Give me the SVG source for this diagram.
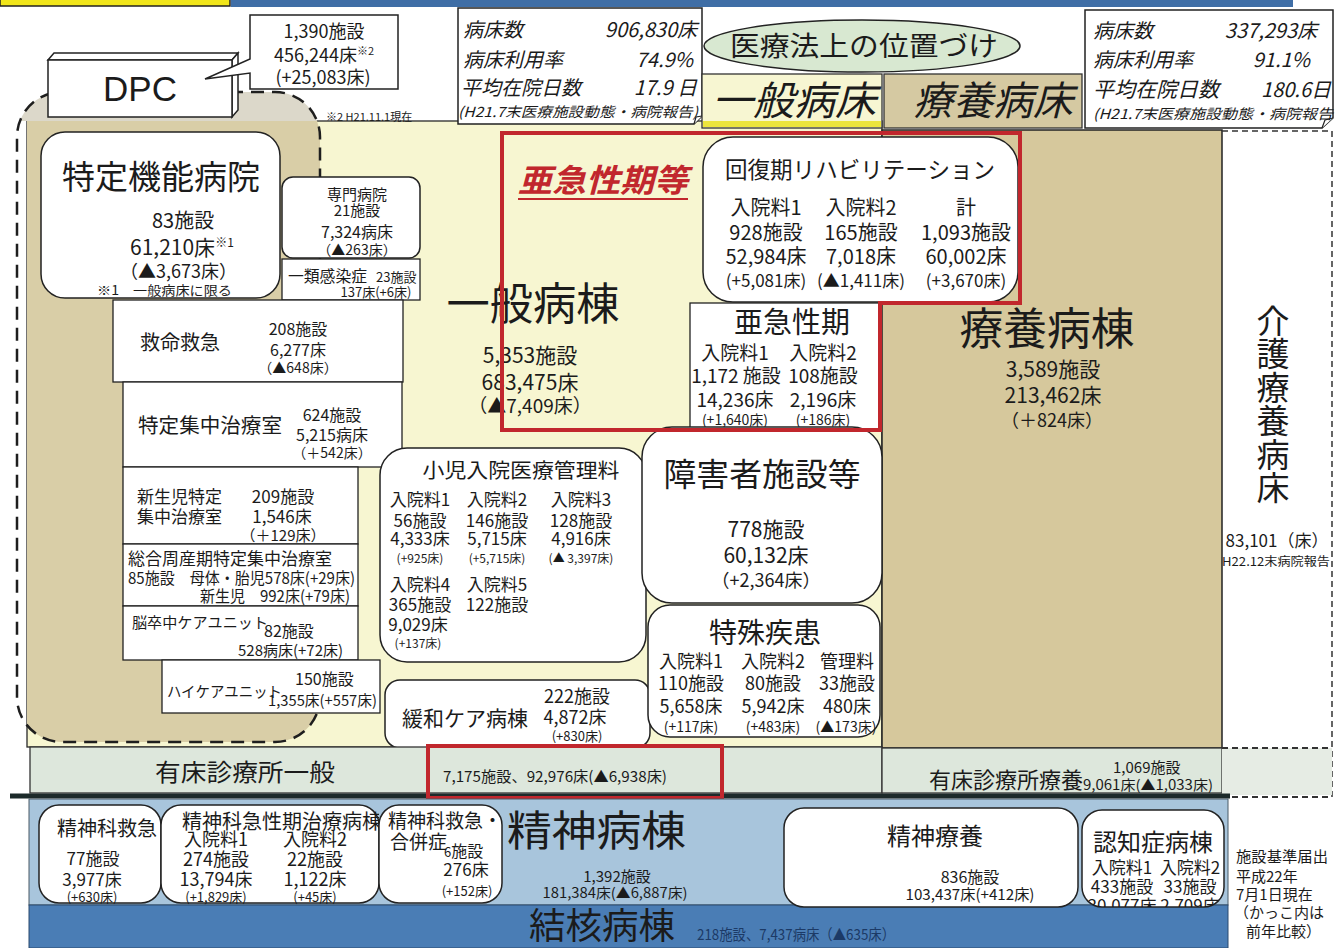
<svg xmlns="http://www.w3.org/2000/svg" width="1341" height="948" viewBox="0 0 1341 948">
<defs>
<style>
.j{font-family:"Noto Sans CJK JP","Noto Sans CJK SC",sans-serif;fill:#1b1b1b}
.m{text-anchor:middle}
.e{text-anchor:end}
.i{font-style:italic}
.box{fill:#fff;stroke:#222;stroke-width:1.5}
.sq{fill:#fff;stroke:#222;stroke-width:1.3}
.red{fill:none;stroke:#c1272d;stroke-width:4}
</style>
<clipPath id="cMain"><rect x="27" y="121" width="855" height="626"/></clipPath>
<clipPath id="cTop"><rect x="0" y="0" width="420" height="121"/></clipPath>
<clipPath id="cNin"><rect x="1082" y="810" width="142" height="97" rx="20"/></clipPath>
<clipPath id="cKyu"><rect x="161" y="805" width="218" height="98"/></clipPath>
<path id="dpcShape" d="M62,92 H275 A45,45 0 0 1 320,137 V697 A45,45 0 0 1 275,742 H62 A45,45 0 0 1 17,697 V137 A45,45 0 0 1 62,92 Z"/>
</defs>
<rect width="1341" height="948" fill="#fff"/>

<g id="top-strips">
<rect x="0" y="-2" width="230" height="8" fill="#f1e61a" stroke="#222" stroke-width="1.5"/>
<rect x="231" y="0" width="1062" height="7" fill="#3f6ea6"/>
</g>

<!-- background regions -->
<g id="region-ippan-byoto">
<rect x="27" y="121" width="855" height="626" fill="#f7f6d1" stroke="#2a2a2a" stroke-width="1.3"/>
</g>
<g id="region-ryoyo-byoto">
<rect x="882" y="130" width="340" height="618" fill="#d6c89c" stroke="#222" stroke-width="1.5"/>
</g>
<g id="region-kaigo">
<path d="M1222,131 H1332 V798" fill="none" stroke="#333" stroke-width="1.5" stroke-dasharray="6 4"/>
</g>
<g id="region-dpc">
<use href="#dpcShape" fill="#d9cea7" clip-path="url(#cMain)"/>
<use href="#dpcShape" fill="#dcd8ca" clip-path="url(#cTop)"/>
<use href="#dpcShape" fill="none" stroke="#1e1e1e" stroke-width="2.5" stroke-dasharray="13 8"/>
</g>

<!-- header stats -->
<g id="stats-ippan">
<path d="M458,8 H702 V116 L694,124 H458 Z" class="box"/>
<path d="M694,124 L696,117 L702,116" fill="#fff" stroke="#222" stroke-width="1.2"/>
<text class="j i" x="463" y="37" font-size="20">病床数</text>
<text class="j i e" x="697" y="37" font-size="20">906,830床</text>
<text class="j i" x="463" y="67" font-size="20">病床利用率</text>
<text class="j i e" x="693" y="67" font-size="20">74.9%</text>
<text class="j i" x="461" y="95" font-size="20">平均在院日数</text>
<text class="j i e" x="697" y="95" font-size="20">17.9 日</text>
<text class="j i" x="458" y="117" font-size="14" textLength="240" lengthAdjust="spacingAndGlyphs">(H21.7末医療施設動態・病院報告)</text>
</g>

<g id="label-iryoho">
<ellipse cx="862" cy="46" rx="158" ry="26" fill="#d8e8d1" stroke="#222" stroke-width="1.5"/>
<text class="j m" x="864" y="56" font-size="27" textLength="268" lengthAdjust="spacingAndGlyphs">医療法上の位置づけ</text>
</g>

<g id="hdr-ippan-byosho">
<rect x="702" y="74" width="180" height="54" fill="#f7f6d2" stroke="#333" stroke-width="1.3"/>
<rect x="703" y="121" width="178" height="6" fill="#ece53e"/>
<text class="j i m" x="794" y="115" font-size="40" textLength="164" lengthAdjust="spacingAndGlyphs">一般病床</text>
</g>
<g id="hdr-ryoyo-byosho">
<rect x="884" y="74" width="198" height="54" fill="#d5c9a2" stroke="#333" stroke-width="1.3"/>
<text class="j i m" x="993" y="115" font-size="40" textLength="160" lengthAdjust="spacingAndGlyphs">療養病床</text>
</g>

<g id="stats-ryoyo">
<path d="M1085,10 H1333 V118 L1322,128 H1085 Z" class="box"/>
<path d="M1322,128 L1325,120 L1333,118" fill="#fff" stroke="#222" stroke-width="1.2"/>
<text class="j i" x="1093" y="38" font-size="20">病床数</text>
<text class="j i e" x="1317" y="38" font-size="20">337,293床</text>
<text class="j i" x="1093" y="67" font-size="20">病床利用率</text>
<text class="j i e" x="1310" y="67" font-size="20">91.1%</text>
<text class="j i" x="1093" y="97" font-size="21">平均在院日数</text>
<text class="j i e" x="1331" y="97" font-size="20">180.6日</text>
<text class="j i" x="1093" y="119" font-size="14" textLength="240" lengthAdjust="spacingAndGlyphs">(H21.7末医療施設動態・病院報告</text>
</g>

<!-- DPC -->
<g id="dpc">
<polygon points="48,60 54,53 238,53 232,60" fill="#fff" stroke="#222" stroke-width="1.5"/>
<polygon points="232,60 238,53 238,110 232,117" fill="#fff" stroke="#222" stroke-width="1.5"/>
<rect x="48" y="60" width="184" height="57" fill="#fff" stroke="#222" stroke-width="1.5"/>
<text x="140" y="101" font-family="Liberation Sans, Arial, sans-serif" font-size="35" text-anchor="middle" fill="#1b1b1b">DPC</text>
</g>
<g id="dpc-callout">
<path d="M250,15 H398 V89 H250 V73 L205,79 L250,59 Z" fill="#fff" stroke="#222" stroke-width="1.5"/>
<text class="j m" x="324" y="38" font-size="18">1,390施設</text>
<text class="j m" x="324" y="62" font-size="18">456,244床<tspan font-size="11" dy="-7">※2</tspan></text>
<text class="j m" x="323" y="84" font-size="18">(+25,083床)</text>
</g>
<text class="j" x="326" y="121" font-size="11">※2  H21.11.1現在</text>

<!-- left column -->
<g id="tokutei-kino">
<rect x="41" y="132" width="239" height="166" rx="24" class="box"/>
<text class="j m" x="161" y="189" font-size="33" textLength="198" lengthAdjust="spacingAndGlyphs">特定機能病院</text>
<text class="j" x="152" y="228" font-size="20">83施設</text>
<text class="j" x="130" y="255" font-size="21">61,210床<tspan font-size="12" dy="-8">※1</tspan></text>
<text class="j" x="120" y="278" font-size="18">（▲3,673床）</text>
<text class="j" x="97" y="295" font-size="13" textLength="135" lengthAdjust="spacingAndGlyphs">※1　一般病床に限る</text>
</g>
<g id="senmon">
<rect x="282" y="177" width="138" height="81" rx="11" class="box"/>
<text class="j m" x="357" y="200" font-size="15">専門病院</text>
<text class="j m" x="357" y="216" font-size="15">21施設</text>
<text class="j m" x="357" y="238" font-size="16">7,324病床</text>
<text class="j m" x="357" y="255" font-size="14">（▲263床）</text>
</g>
<g id="ichirui">
<rect x="282" y="259" width="138" height="41" class="sq"/>
<text class="j" x="288" y="282" font-size="16" textLength="79" lengthAdjust="spacingAndGlyphs">一類感染症</text>
<text class="j" x="376" y="282" font-size="13">23施設</text>
<text class="j m" x="376" y="297" font-size="13">137床(+6床)</text>
</g>
<g id="kyumei">
<rect x="113" y="300" width="290" height="82" class="sq"/>
<text class="j" x="140" y="350" font-size="20">救命救急</text>
<text class="j m" x="298" y="335" font-size="16">208施設</text>
<text class="j m" x="298" y="356" font-size="16">6,277床</text>
<text class="j m" x="298" y="373" font-size="14">（▲648床）</text>
</g>
<g id="tokutei-shuchu">
<rect x="123" y="382" width="279" height="85" class="sq"/>
<text class="j" x="138" y="433" font-size="20" textLength="144" lengthAdjust="spacingAndGlyphs">特定集中治療室</text>
<text class="j m" x="332" y="421" font-size="16">624施設</text>
<text class="j m" x="332" y="441" font-size="16">5,215病床</text>
<text class="j m" x="332" y="458" font-size="14">（＋542床）</text>
</g>
<g id="shinseiji">
<rect x="123" y="467" width="235" height="77" class="sq"/>
<text class="j" x="137" y="503" font-size="17">新生児特定</text>
<text class="j" x="137" y="523" font-size="17">集中治療室</text>
<text class="j m" x="283" y="503" font-size="17">209施設</text>
<text class="j m" x="282" y="523" font-size="17">1,546床</text>
<text class="j m" x="283" y="541" font-size="15">（＋129床）</text>
</g>
<g id="shusanki">
<rect x="123" y="544" width="235" height="62" class="sq"/>
<text class="j" x="128" y="565" font-size="17" textLength="204" lengthAdjust="spacingAndGlyphs">総合周産期特定集中治療室</text>
<text class="j" x="128" y="584" font-size="16" textLength="227" lengthAdjust="spacingAndGlyphs">85施設　母体・胎児578床(+29床)</text>
<text class="j" x="200" y="602" font-size="16" textLength="150" lengthAdjust="spacingAndGlyphs">新生児　992床(+79床)</text>
</g>
<g id="nosocchu">
<rect x="123" y="606" width="235" height="54" class="sq"/>
<text class="j" x="132" y="628" font-size="15" textLength="136" lengthAdjust="spacingAndGlyphs">脳卒中ケアユニット</text>
<text class="j" x="264" y="637" font-size="16">82施設</text>
<text class="j" x="238" y="656" font-size="15" textLength="105" lengthAdjust="spacingAndGlyphs">528病床(+72床)</text>
</g>
<g id="highcare">
<rect x="162" y="660" width="218" height="53" class="sq"/>
<text class="j" x="167" y="697" font-size="15" textLength="115" lengthAdjust="spacingAndGlyphs">ハイケアユニット</text>
<text class="j" x="295" y="685" font-size="16">150施設</text>
<text class="j" x="268" y="706" font-size="15" textLength="109" lengthAdjust="spacingAndGlyphs">1,355床(+557床)</text>
</g>

<!-- middle -->
<g id="ippan-byoto-label">
<text class="j m" x="533" y="320" font-size="44" textLength="173" lengthAdjust="spacingAndGlyphs">一般病棟</text>
<text class="j m" x="530" y="363" font-size="21">5,353施設</text>
<text class="j m" x="530" y="390" font-size="21">683,475床</text>
<text class="j m" x="530" y="413" font-size="19">（▲7,409床）</text>
</g>
<g id="kaifukuki">
<rect x="703" y="137" width="315" height="165" rx="30" class="box"/>
<text class="j m" x="860" y="178" font-size="23" textLength="270" lengthAdjust="spacingAndGlyphs">回復期リハビリテーション</text>
<text class="j m" x="766" y="215" font-size="20">入院料1</text>
<text class="j m" x="766" y="240" font-size="20">928施設</text>
<text class="j m" x="766" y="264" font-size="20">52,984床</text>
<text class="j m" x="766" y="287" font-size="17">(+5,081床)</text>
<text class="j m" x="861" y="215" font-size="20">入院料2</text>
<text class="j m" x="861" y="240" font-size="20">165施設</text>
<text class="j m" x="861" y="264" font-size="20">7,018床</text>
<text class="j m" x="861" y="287" font-size="17">(▲1,411床)</text>
<text class="j m" x="966" y="215" font-size="20">計</text>
<text class="j m" x="966" y="240" font-size="20">1,093施設</text>
<text class="j m" x="966" y="264" font-size="20">60,002床</text>
<text class="j m" x="966" y="287" font-size="17">(+3,670床)</text>
</g>
<g id="akyuseiki">
<rect x="690" y="303" width="190" height="127" class="sq"/>
<text class="j m" x="792" y="333" font-size="29">亜急性期</text>
<text class="j m" x="735" y="360" font-size="19">入院料1</text>
<text class="j m" x="736" y="383" font-size="19">1,172 施設</text>
<text class="j m" x="735" y="407" font-size="19">14,236床</text>
<text class="j m" x="735" y="425" font-size="14">(+1,640床)</text>
<text class="j m" x="823" y="360" font-size="19">入院料2</text>
<text class="j m" x="823" y="383" font-size="19">108施設</text>
<text class="j m" x="823" y="407" font-size="19">2,196床</text>
<text class="j m" x="823" y="425" font-size="14">(+186床)</text>
</g>
<g id="akyuseiki-to">
<text class="j i m" x="603" y="192" font-size="32" font-weight="bold" style="fill:#c1272d" textLength="170" lengthAdjust="spacingAndGlyphs">亜急性期等</text>
<line x1="518" y1="199" x2="688" y2="199" stroke="#c1272d" stroke-width="2"/>
</g>
<g id="shoni">
<rect x="380" y="448" width="266" height="214" rx="27" class="box"/>
<text class="j m" x="521" y="478" font-size="20" textLength="197" lengthAdjust="spacingAndGlyphs">小児入院医療管理料</text>
<text class="j m" x="420" y="506" font-size="17">入院料1</text>
<text class="j m" x="420" y="527" font-size="17">56施設</text>
<text class="j m" x="420" y="545" font-size="17">4,333床</text>
<text class="j m" x="420" y="563" font-size="12">(+925床)</text>
<text class="j m" x="497" y="506" font-size="17">入院料2</text>
<text class="j m" x="497" y="527" font-size="17">146施設</text>
<text class="j m" x="497" y="545" font-size="17">5,715床</text>
<text class="j m" x="497" y="563" font-size="12">(+5,715床)</text>
<text class="j m" x="581" y="506" font-size="17">入院料3</text>
<text class="j m" x="581" y="527" font-size="17">128施設</text>
<text class="j m" x="581" y="545" font-size="17">4,916床</text>
<text class="j m" x="581" y="563" font-size="12">(▲ 3,397床)</text>
<text class="j m" x="420" y="591" font-size="17">入院料4</text>
<text class="j m" x="420" y="611" font-size="17">365施設</text>
<text class="j m" x="418" y="631" font-size="17">9,029床</text>
<text class="j m" x="418" y="648" font-size="12">(+137床)</text>
<text class="j m" x="497" y="591" font-size="17">入院料5</text>
<text class="j m" x="497" y="611" font-size="17">122施設</text>
</g>
<g id="kanwa">
<rect x="385" y="680" width="265" height="68" rx="15" class="box"/>
<text class="j" x="402" y="726" font-size="21">緩和ケア病棟</text>
<text class="j m" x="577" y="703" font-size="18">222施設</text>
<text class="j m" x="575" y="724" font-size="18">4,872床</text>
<text class="j m" x="577" y="741" font-size="13">(+830床)</text>
</g>
<g id="shogaisha">
<rect x="642" y="427" width="240" height="176" rx="30" class="box"/>
<text class="j m" x="762" y="486" font-size="32" textLength="197" lengthAdjust="spacingAndGlyphs">障害者施設等</text>
<text class="j m" x="766" y="537" font-size="21">778施設</text>
<text class="j m" x="766" y="563" font-size="21">60,132床</text>
<text class="j m" x="766" y="587" font-size="18">（+2,364床）</text>
</g>
<g id="tokushu">
<rect x="648" y="605" width="232" height="132" rx="22" class="box"/>
<text class="j m" x="765" y="643" font-size="28">特殊疾患</text>
<text class="j m" x="691" y="668" font-size="18">入院料1</text>
<text class="j m" x="691" y="690" font-size="18">110施設</text>
<text class="j m" x="691" y="713" font-size="18">5,658床</text>
<text class="j m" x="691" y="732" font-size="14">(+117床)</text>
<text class="j m" x="773" y="668" font-size="18">入院料2</text>
<text class="j m" x="773" y="690" font-size="18">80施設</text>
<text class="j m" x="773" y="713" font-size="18">5,942床</text>
<text class="j m" x="773" y="732" font-size="14">(+483床)</text>
<text class="j m" x="847" y="668" font-size="18">管理料</text>
<text class="j m" x="847" y="690" font-size="18">33施設</text>
<text class="j m" x="847" y="713" font-size="18">480床</text>
<text class="j m" x="846" y="732" font-size="14">(▲173床)</text>
</g>

<!-- right -->
<g id="ryoyo-byoto-label">
<text class="j m" x="1047" y="345" font-size="44" textLength="175" lengthAdjust="spacingAndGlyphs">療養病棟</text>
<text class="j m" x="1053" y="377" font-size="21">3,589施設</text>
<text class="j m" x="1053" y="403" font-size="21">213,462床</text>
<text class="j m" x="1052" y="427" font-size="18">（＋824床）</text>
</g>
<g id="kaigo-ryoyo">
<text class="j m" x="1273" y="333" font-size="33">介</text>
<text class="j m" x="1273" y="366" font-size="33">護</text>
<text class="j m" x="1273" y="400" font-size="33">療</text>
<text class="j m" x="1273" y="433" font-size="33">養</text>
<text class="j m" x="1273" y="467" font-size="33">病</text>
<text class="j m" x="1273" y="500" font-size="33">床</text>
<text class="j m" x="1277" y="547" font-size="17">83,101（床）</text>
<text class="j" x="1222" y="566" font-size="12" textLength="108" lengthAdjust="spacingAndGlyphs">H22.12末病院報告</text>
</g>

<!-- red frame -->
<g id="frame-akyuseiki">
<path d="M502,133 H1020 V303 H880 V430 H502 Z" class="red" stroke-linejoin="miter"/>
</g>

<!-- clinic bars -->
<g id="yushou-ippan">
<rect x="30" y="747" width="852" height="46" fill="#dde7dc" stroke="#333" stroke-width="1.3"/>
<text class="j" x="155" y="781" font-size="24" textLength="180" lengthAdjust="spacingAndGlyphs">有床診療所一般</text>
</g>
<g id="yushou-ryoyo">
<rect x="882" y="748" width="340" height="45" fill="#dde7dc" stroke="#333" stroke-width="1.3"/>
<text class="j" x="929" y="788" font-size="22" textLength="154" lengthAdjust="spacingAndGlyphs">有床診療所療養</text>
<text class="j" x="1113" y="773" font-size="15">1,069施設</text>
<text class="j" x="1083" y="790" font-size="14" textLength="130" lengthAdjust="spacingAndGlyphs">9,061床(▲1,033床)</text>
</g>
<g id="kaigo-bar">
<rect x="1222" y="748" width="110" height="47" fill="#e6ece4" stroke="none"/>
<path d="M1222,748 H1332 M1222,797 H1332" stroke="#333" stroke-width="2" stroke-dasharray="6 4"/>
</g>
<line x1="10" y1="796" x2="1230" y2="796" stroke="#1c2a2a" stroke-width="5"/>
<g id="yushou-ippan-total">
<rect x="428" y="746" width="294" height="52" class="red"/>
<text class="j" x="443" y="782" font-size="15" textLength="224" lengthAdjust="spacingAndGlyphs">7,175施設、92,976床(▲6,938床)</text>
</g>

<!-- psychiatric / TB -->
<g id="seishin-byoto">
<rect x="29" y="799" width="1199" height="106" fill="#a8c5dc" stroke="#4a5a66" stroke-width="1"/>
<text class="j" x="507" y="846" font-size="42" textLength="179" lengthAdjust="spacingAndGlyphs">精神病棟</text>
<text class="j m" x="617" y="882" font-size="15">1,392施設</text>
<text class="j m" x="615" y="898" font-size="14" textLength="145" lengthAdjust="spacingAndGlyphs">181,384床(▲6,887床)</text>
</g>
<g id="kekkaku-byoto">
<rect x="29" y="905" width="1199" height="43" fill="#4a7db5" stroke="#2b4a6e" stroke-width="1"/>
<text class="j" x="529" y="939" font-size="36" textLength="146" lengthAdjust="spacingAndGlyphs">結核病棟</text>
<text class="j" x="697" y="940" font-size="15" style="fill:#1c3a66" textLength="198" lengthAdjust="spacingAndGlyphs">218施設、7,437病床（▲635床）</text>
</g>
<g id="seishin-kyukyu">
<rect x="39" y="805" width="122" height="98" rx="20" class="box"/>
<text class="j m" x="107" y="836" font-size="20">精神科救急</text>
<text class="j m" x="93" y="865" font-size="17">77施設</text>
<text class="j m" x="92" y="886" font-size="17">3,977床</text>
<text class="j m" x="92" y="902" font-size="13">(+630床)</text>
</g>
<g id="seishin-kyuseiki">
<rect x="161" y="805" width="218" height="98" rx="20" class="box"/>
<text class="j" x="182" y="829" font-size="20" clip-path="url(#cKyu)">精神科急性期治療病棟</text>
<text class="j m" x="216" y="846" font-size="18">入院料1</text>
<text class="j m" x="216" y="866" font-size="18">274施設</text>
<text class="j m" x="216" y="886" font-size="18">13,794床</text>
<text class="j m" x="216" y="902" font-size="13">(+1,829床)</text>
<text class="j m" x="315" y="846" font-size="18">入院料2</text>
<text class="j m" x="315" y="866" font-size="18">22施設</text>
<text class="j m" x="315" y="886" font-size="18">1,122床</text>
<text class="j m" x="315" y="902" font-size="13">(+45床)</text>
</g>
<g id="seishin-gappei">
<rect x="379" y="805" width="123" height="98" rx="20" class="box"/>
<text class="j" x="388" y="828" font-size="19">精神科救急・</text>
<text class="j" x="390" y="849" font-size="19">合併症</text>
<text class="j" x="444" y="857" font-size="16"><tspan font-size="13">6</tspan>施設</text>
<text class="j m" x="466" y="876" font-size="17">276床</text>
<text class="j m" x="467" y="896" font-size="13">(+152床)</text>
</g>
<g id="seishin-ryoyo">
<rect x="784" y="808" width="294" height="99" rx="20" class="box"/>
<text class="j m" x="935" y="845" font-size="24">精神療養</text>
<text class="j m" x="970" y="883" font-size="16">836施設</text>
<text class="j m" x="970" y="900" font-size="15" textLength="129" lengthAdjust="spacingAndGlyphs">103,437床(+412床)</text>
</g>
<g id="ninchisho">
<rect x="1082" y="810" width="142" height="97" rx="20" class="box"/>
<g clip-path="url(#cNin)">
<text class="j m" x="1153" y="851" font-size="24">認知症病棟</text>
<text class="j m" x="1122" y="874" font-size="17">入院料1</text>
<text class="j m" x="1190" y="874" font-size="17">入院料2</text>
<text class="j m" x="1122" y="893" font-size="17">433施設</text>
<text class="j m" x="1190" y="893" font-size="17">33施設</text>
<text class="j m" x="1122" y="912" font-size="17">30,077床</text>
<text class="j m" x="1190" y="912" font-size="17">2,709床</text>
</g>
</g>
<g id="note">
<text class="j" x="1236" y="862" font-size="15" textLength="92" lengthAdjust="spacingAndGlyphs">施設基準届出</text>
<text class="j" x="1236" y="882" font-size="15">平成22年</text>
<text class="j" x="1236" y="900" font-size="15">7月1日現在</text>
<text class="j" x="1234" y="918" font-size="15">（かっこ内は</text>
<text class="j" x="1246" y="937" font-size="15">前年比較）</text>
</g>
<g id="connectors"></g>
</svg>
